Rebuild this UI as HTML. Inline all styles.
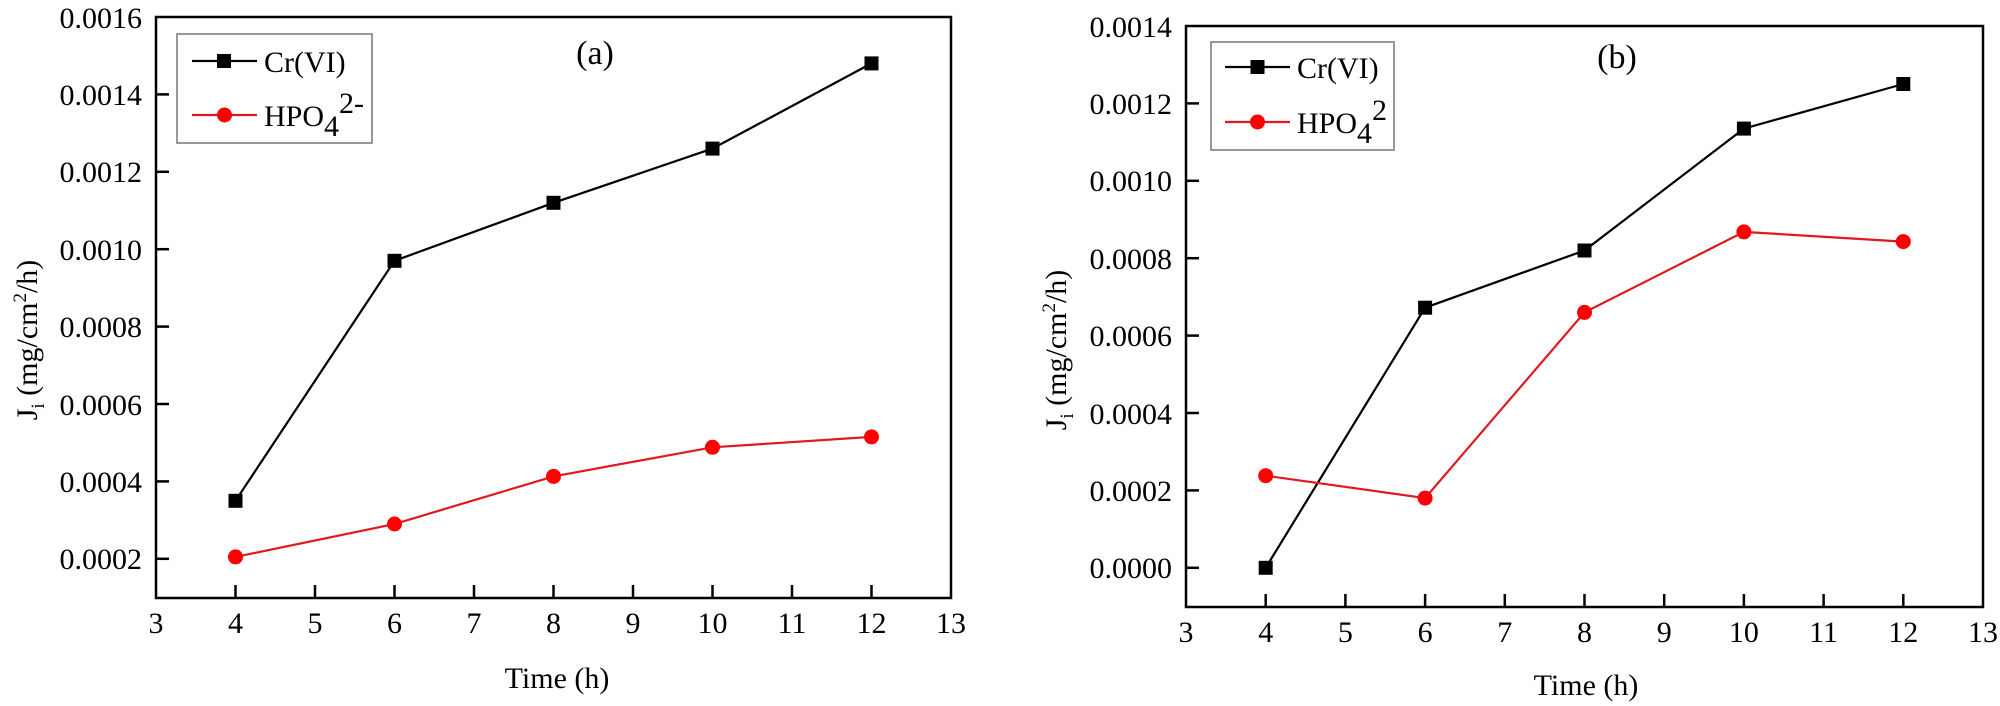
<!DOCTYPE html>
<html><head><meta charset="utf-8"><style>
html,body{margin:0;padding:0;background:#fff;}
svg{display:block;font-family:"Liberation Serif",serif;}
</style></head><body>
<svg width="2000" height="706" viewBox="0 0 2000 706" xmlns="http://www.w3.org/2000/svg">
<!-- Panel A -->
<g>
<rect x="156" y="17" width="795" height="581" fill="none" stroke="#000" stroke-width="2.5"/>
<g stroke="#000" stroke-width="2.5">
<line x1="156" y1="94.4" x2="169" y2="94.4"/><line x1="156" y1="171.8" x2="169" y2="171.8"/><line x1="156" y1="249.2" x2="169" y2="249.2"/><line x1="156" y1="326.6" x2="169" y2="326.6"/><line x1="156" y1="404" x2="169" y2="404"/><line x1="156" y1="481.4" x2="169" y2="481.4"/><line x1="156" y1="558.8" x2="169" y2="558.8"/>
<line x1="235.5" y1="598" x2="235.5" y2="585"/><line x1="315" y1="598" x2="315" y2="585"/><line x1="394.5" y1="598" x2="394.5" y2="585"/><line x1="474" y1="598" x2="474" y2="585"/><line x1="553.5" y1="598" x2="553.5" y2="585"/><line x1="633" y1="598" x2="633" y2="585"/><line x1="712.5" y1="598" x2="712.5" y2="585"/><line x1="792" y1="598" x2="792" y2="585"/><line x1="871.5" y1="598" x2="871.5" y2="585"/>
</g>
<g font-size="30" text-anchor="end" fill="#000">
<text x="142" y="28">0.0016</text><text x="142" y="105">0.0014</text><text x="142" y="182">0.0012</text><text x="142" y="260">0.0010</text><text x="142" y="337">0.0008</text><text x="142" y="415">0.0006</text><text x="142" y="492">0.0004</text><text x="142" y="569">0.0002</text>
</g>
<g font-size="30" text-anchor="middle" fill="#000">
<text x="156" y="633">3</text><text x="235.5" y="633">4</text><text x="315" y="633">5</text><text x="394.5" y="633">6</text><text x="474" y="633">7</text><text x="553.5" y="633">8</text><text x="633" y="633">9</text><text x="712.5" y="633">10</text><text x="792" y="633">11</text><text x="871.5" y="633">12</text><text x="951" y="633">13</text>
</g>
<text x="557" y="688" font-size="30" text-anchor="middle">Time (h)</text>
<text transform="translate(37,340) rotate(-90)" font-size="30" text-anchor="middle">J<tspan font-size="19" dy="7">i</tspan><tspan dy="-7"> (mg/cm</tspan><tspan font-size="19" dy="-11">2</tspan><tspan dy="11">/h)</tspan></text>
<text x="595" y="64" font-size="34" text-anchor="middle">(a)</text>
<polyline points="235.5,500.8 394.5,260.8 553.5,202.8 712.5,148.6 871.5,63.4" fill="none" stroke="#000" stroke-width="2.2"/>
<polyline points="235.5,556.9 394.5,524 553.5,476.4 712.5,447.3 871.5,436.9" fill="none" stroke="#e0191f" stroke-width="2.2"/>
<g fill="#000"><rect x="228.5" y="493.8" width="14" height="14"/><rect x="387.5" y="253.8" width="14" height="14"/><rect x="546.5" y="195.8" width="14" height="14"/><rect x="705.5" y="141.6" width="14" height="14"/><rect x="864.5" y="56.4" width="14" height="14"/></g>
<g fill="#f00"><circle cx="235.5" cy="556.9" r="7.5"/><circle cx="394.5" cy="524" r="7.5"/><circle cx="553.5" cy="476.4" r="7.5"/><circle cx="712.5" cy="447.3" r="7.5"/><circle cx="871.5" cy="436.9" r="7.5"/></g>
<rect x="177" y="34" width="195" height="109" fill="none" stroke="#777" stroke-width="1.5"/>
<line x1="192" y1="61" x2="257" y2="61" stroke="#000" stroke-width="2.2"/><rect x="217" y="54" width="14" height="14" fill="#000"/>
<text x="264" y="72" font-size="30">Cr(VI)</text>
<line x1="192" y1="115" x2="257" y2="115" stroke="#e0191f" stroke-width="2.2"/><circle cx="224.5" cy="115" r="7.5" fill="#f00"/>
<text x="264" y="126" font-size="30">HPO<tspan dy="10">4</tspan><tspan dy="-23">2-</tspan></text>
</g>
<!-- Panel B -->
<g>
<rect x="1186" y="26" width="797" height="581" fill="none" stroke="#000" stroke-width="2.5"/>
<g stroke="#000" stroke-width="2.5">
<line x1="1186" y1="103.4" x2="1199" y2="103.4"/><line x1="1186" y1="180.8" x2="1199" y2="180.8"/><line x1="1186" y1="258.2" x2="1199" y2="258.2"/><line x1="1186" y1="335.6" x2="1199" y2="335.6"/><line x1="1186" y1="413" x2="1199" y2="413"/><line x1="1186" y1="490.4" x2="1199" y2="490.4"/><line x1="1186" y1="567.8" x2="1199" y2="567.8"/>
<line x1="1265.7" y1="607" x2="1265.7" y2="594"/><line x1="1345.4" y1="607" x2="1345.4" y2="594"/><line x1="1425.1" y1="607" x2="1425.1" y2="594"/><line x1="1504.8" y1="607" x2="1504.8" y2="594"/><line x1="1584.5" y1="607" x2="1584.5" y2="594"/><line x1="1664.2" y1="607" x2="1664.2" y2="594"/><line x1="1743.9" y1="607" x2="1743.9" y2="594"/><line x1="1823.6" y1="607" x2="1823.6" y2="594"/><line x1="1903.3" y1="607" x2="1903.3" y2="594"/>
</g>
<g font-size="30" text-anchor="end" fill="#000">
<text x="1172" y="37">0.0014</text><text x="1172" y="114">0.0012</text><text x="1172" y="191">0.0010</text><text x="1172" y="269">0.0008</text><text x="1172" y="346">0.0006</text><text x="1172" y="424">0.0004</text><text x="1172" y="501">0.0002</text><text x="1172" y="578">0.0000</text>
</g>
<g font-size="30" text-anchor="middle" fill="#000">
<text x="1186" y="642">3</text><text x="1265.7" y="642">4</text><text x="1345.4" y="642">5</text><text x="1425.1" y="642">6</text><text x="1504.8" y="642">7</text><text x="1584.5" y="642">8</text><text x="1664.2" y="642">9</text><text x="1743.9" y="642">10</text><text x="1823.6" y="642">11</text><text x="1903.3" y="642">12</text><text x="1983" y="642">13</text>
</g>
<text x="1586" y="695" font-size="30" text-anchor="middle">Time (h)</text>
<text transform="translate(1066,350) rotate(-90)" font-size="30" text-anchor="middle">J<tspan font-size="19" dy="7">i</tspan><tspan dy="-7"> (mg/cm</tspan><tspan font-size="19" dy="-11">2</tspan><tspan dy="11">/h)</tspan></text>
<text x="1617" y="68" font-size="34" text-anchor="middle">(b)</text>
<polyline points="1265.7,567.8 1425.1,307.7 1584.5,250.5 1743.9,128.6 1903.3,84" fill="none" stroke="#000" stroke-width="2.2"/>
<polyline points="1265.7,475.7 1425.1,498.1 1584.5,312.4 1743.9,231.9 1903.3,241.6" fill="none" stroke="#e0191f" stroke-width="2.2"/>
<g fill="#000"><rect x="1258.7" y="560.8" width="14" height="14"/><rect x="1418.1" y="300.7" width="14" height="14"/><rect x="1577.5" y="243.5" width="14" height="14"/><rect x="1736.9" y="121.6" width="14" height="14"/><rect x="1896.3" y="77" width="14" height="14"/></g>
<g fill="#f00"><circle cx="1265.7" cy="475.7" r="7.5"/><circle cx="1425.1" cy="498.1" r="7.5"/><circle cx="1584.5" cy="312.4" r="7.5"/><circle cx="1743.9" cy="231.9" r="7.5"/><circle cx="1903.3" cy="241.6" r="7.5"/></g>
<rect x="1211" y="42" width="183" height="108" fill="none" stroke="#777" stroke-width="1.5"/>
<line x1="1225" y1="67" x2="1290" y2="67" stroke="#000" stroke-width="2.2"/><rect x="1250.5" y="60" width="14" height="14" fill="#000"/>
<text x="1297" y="78" font-size="30">Cr(VI)</text>
<line x1="1225" y1="122" x2="1290" y2="122" stroke="#e0191f" stroke-width="2.2"/><circle cx="1257.5" cy="122" r="7.5" fill="#f00"/>
<text x="1297" y="133" font-size="30">HPO<tspan dy="10">4</tspan><tspan dy="-23">2</tspan></text>
</g>
</svg>
</body></html>
